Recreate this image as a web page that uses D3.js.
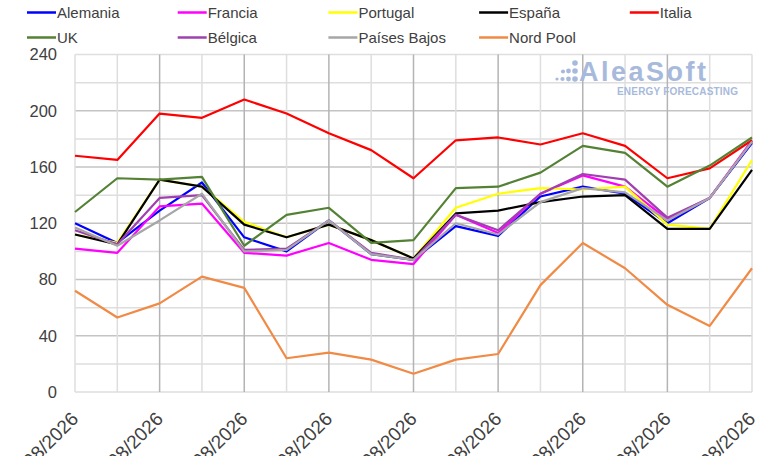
<!DOCTYPE html>
<html>
<head>
<meta charset="utf-8">
<script src="https://cdn.jsdelivr.net/npm/d3@7"></script>
<style>
  html, body { margin: 0; padding: 0; background: #fff; }
  svg { display: block; font-family: "Liberation Sans", Arial, sans-serif; }
</style>
</head>
<body>
<svg id="chart" width="768" height="456"></svg>
<script>
// days shown on the x axis (only every other one gets a label)
const dates = ["10/08/2026","11/08/2026","12/08/2026","13/08/2026","14/08/2026","15/08/2026",
  "16/08/2026","17/08/2026","18/08/2026","19/08/2026","20/08/2026","21/08/2026","22/08/2026",
  "23/08/2026","24/08/2026","25/08/2026","26/08/2026"];
const yTicks = [0, 40, 80, 120, 160, 200, 240];

const seriesNames = ["Alemania","Francia","Portugal","España","Italia","UK","Bélgica","Países Bajos","Nord Pool"];
const seriesColors = ["#0000ff","#ff00ff","#ffff00","#000000","#ff0000","#548235","#a040b0","#a6a6a6","#f08a45"];

// EUR/MWh
const alemania    = [120,106,129,149,110,100,122, 98, 94,118,111,139,146,141,120,138,177];
const francia     = [102, 99,132,134, 99, 97,106, 94, 91,126,113,141,154,146,123,138,179];
const portugal    = [112,106,151,146,121,110,119,108, 95,131,141,145,144,146,119,116,165];
const espana      = [112,105,151,146,119,110,119,108, 95,127,129,135,139,140,116,116,158];
const italia      = [168,165,198,195,208,198,184,172,152,179,181,176,184,175,152,159,179];
const uk          = [128,152,151,153,104,126,131,106,108,145,146,156,175,170,146,161,181];
const belgica     = [115,105,138,140,101,102,122, 99, 94,126,115,141,155,151,124,138,178];
const paisesBajos = [117,104,122,141,100,101,122, 98, 94,120,112,135,145,142,122,138,178];
const nordPool    = [ 72, 53, 63, 82, 74, 24, 28, 23, 13, 23, 27, 76,106, 88, 62, 47, 88];

const seriesValues = [alemania, francia, portugal, espana, italia, uk, belgica, paisesBajos, nordPool];

const svg = d3.select("#chart");
const margin = {left: 75, right: 16, top: 54.5, bottom: 64};
const W = 768, H = 456;

const x = d3.scalePoint().domain(dates).range([margin.left, W - margin.right]);
const y = d3.scaleLinear().domain([0, 240]).range([H - margin.bottom, margin.top]);

// grid
const grid = svg.append("g");
grid.selectAll("line.h").data(d3.range(0, 241, 20)).join("line")
  .attr("x1", margin.left).attr("x2", W - margin.right)
  .attr("y1", d => y(d)).attr("y2", d => y(d))
  .attr("stroke", d => (d % 40 === 0 && d > 0 && d < 240) ? "#c4c4c4" : "#dedede")
  .attr("stroke-width", 1.5);
grid.selectAll("line.v").data(dates).join("line")
  .attr("x1", d => x(d)).attr("x2", d => x(d))
  .attr("y1", y(0)).attr("y2", y(240))
  .attr("stroke", (d, i) => (i % 2 === 0 && i > 0 && i < dates.length - 1) ? "#b4b4b4" : "#dedede")
  .attr("stroke-width", 1.5);

// watermark
const wm = svg.append("g").attr("fill", "#a7badb");
const dots = [[557,79,1.6],[562.5,79,2.1],[563,71.5,2.1],[568.5,79,2.4],[568.5,71,2.4],[575,79,2.8],[575,71,2.8],[575,63,2.8]];
wm.selectAll("circle").data(dots).join("circle")
  .attr("cx", d => d[0]).attr("cy", d => d[1]).attr("r", d => d[2]);
wm.append("text").attr("x", 579).attr("y", 81)
  .attr("font-size", 27).attr("font-weight", "bold").attr("textLength", 127)
  .text("AleaSoft");
wm.append("text").attr("x", 617).attr("y", 95)
  .attr("font-size", 10).attr("font-weight", "bold").attr("textLength", 121)
  .text("ENERGY FORECASTING");

// axes
const yAxis = svg.append("g")
  .attr("transform", `translate(${margin.left},0)`)
  .call(d3.axisLeft(y).tickValues(yTicks).tickSize(0).tickPadding(18));
yAxis.select(".domain").remove();
yAxis.selectAll("text").attr("font-size", 16.5).attr("fill", "#404040")
  .attr("font-family", "Liberation Sans, Arial, sans-serif");

const xAxis = svg.append("g")
  .attr("transform", `translate(0,${y(0)})`)
  .call(d3.axisBottom(x).tickValues(dates.filter((d, i) => i % 2 === 0)).tickSize(0));
xAxis.select(".domain").remove();
xAxis.selectAll("text")
  .attr("font-size", 19).attr("fill", "#404040")
  .attr("font-family", "Liberation Sans, Arial, sans-serif")
  .attr("text-anchor", "end")
  .attr("dy", 0).attr("y", 0)
  .attr("transform", "translate(4,28) rotate(-45)");

// lines
const line = d3.line().x((d, i) => x(dates[i])).y(d => y(d));
svg.append("g").selectAll("path").data(seriesValues).join("path")
  .attr("d", d => line(d))
  .attr("fill", "none")
  .attr("stroke", (d, i) => seriesColors[i])
  .attr("stroke-width", 2.2)
  .attr("stroke-linejoin", "round");

// legend
const legend = svg.append("g");
const legItems = legend.selectAll("g").data(seriesNames).join("g")
  .attr("transform", (d, i) => `translate(${27 + (i % 5) * 150.7},${i < 5 ? 12.5 : 37.5})`);
legItems.append("line").attr("x1", 0).attr("x2", 29).attr("y1", 0).attr("y2", 0)
  .attr("stroke", (d, i) => seriesColors[i]).attr("stroke-width", 2.5);
legItems.append("text").attr("x", 30).attr("y", 5.5)
  .attr("font-size", 15).attr("fill", "#404040")
  .text(d => d);
</script>
</body>
</html>
